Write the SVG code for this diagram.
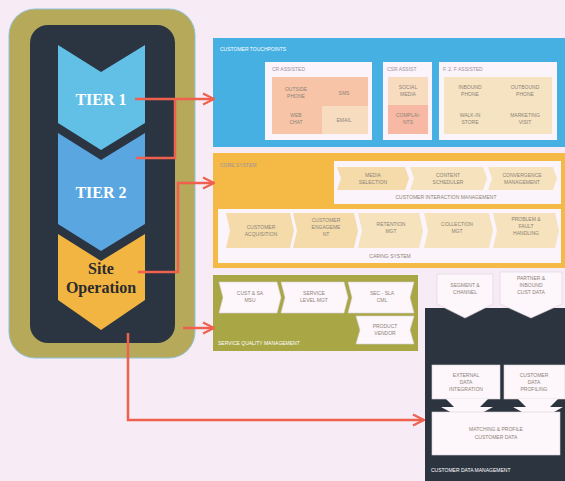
<svg xmlns="http://www.w3.org/2000/svg" width="565" height="481" viewBox="0 0 565 481">
  <style>
    .t { font-family: "Liberation Sans", Arial, sans-serif; font-size: 5px; fill: #8c8478; text-anchor: middle; }
    .lbl { font-family: "Liberation Sans", Arial, sans-serif; font-size: 5px; fill: #9a93a0; }
    .wlbl { font-family: "Liberation Sans", Arial, sans-serif; font-size: 5px; fill: #ffffff; }
    .tier { font-family: "Liberation Serif", "Times New Roman", serif; font-weight: bold; font-size: 16px; text-anchor: middle; }
    .con { fill: none; stroke: #f0604e; stroke-width: 2.5; }
    .box { fill: #fbf4fa; }
    .cellw { fill: #fdf6fb; stroke: #d9d3d8; stroke-width: 0.6; }
  </style>
  <defs>
    <marker id="arrow" viewBox="0 0 10 10" refX="9" refY="5" markerWidth="5.5" markerHeight="5.5" orient="auto" markerUnits="strokeWidth">
      <polyline points="1,1 9,5 1,9" fill="none" stroke="#f0604e" stroke-width="1.5"/>
    </marker>
  </defs>

  <rect width="565" height="481" fill="#f7ebf5"/>

  <!-- tier stack -->
  <g id="tier-stack">
    <rect x="9" y="9" width="186" height="349" rx="26" fill="#b6a95a" stroke="#8fc4d8" stroke-width="1"/>
    <rect x="30" y="25" width="145" height="318" rx="18" fill="#2b3441"/>
  </g>
  <g id="tier1">
    <polygon points="58,45 101,72 145,45 145,123 101,150 58,123" fill="#62c0e6"/>
    <text class="tier" x="101" y="105" fill="#ffffff">TIER 1</text>
  </g>
  <g id="tier2">
    <polygon points="58,133 101,160 145,133 145,224 101,251 58,224" fill="#5aa6e0"/>
    <text class="tier" x="101" y="198" fill="#ffffff">TIER 2</text>
  </g>
  <g id="site-operation">
    <polygon points="58,234 101,261 145,234 145,300 101,330 58,300" fill="#f2b541"/>
    <text class="tier" x="101" y="274" fill="#2b2a2e" font-size="14">Site</text>
    <text class="tier" x="101" y="293" fill="#2b2a2e" font-size="14">Operation</text>
  </g>

  <!-- customer touchpoints -->
  <g id="customer-touchpoints">
    <rect x="213" y="38" width="352" height="109" fill="#46b0e2"/>
    <text class="wlbl" x="220" y="51">CUSTOMER TOUCHPOINTS</text>
    <rect class="box" x="265" y="62" width="107" height="78"/>
    <text class="lbl" x="272" y="71">CR ASSISTED</text>
    <rect x="272" y="77" width="96" height="57" fill="#f7c4a8"/>
    <rect x="322" y="106" width="46" height="28" fill="#f7dcc0"/>
    <text class="t" x="296" y="91">OUTSIDE</text>
    <text class="t" x="296" y="98">PHONE</text>
    <text class="t" x="344" y="95">SMS</text>
    <text class="t" x="296" y="117">WEB</text>
    <text class="t" x="296" y="124">CHAT</text>
    <text class="t" x="344" y="122">EMAIL</text>

    <rect class="box" x="383" y="62" width="49" height="78"/>
    <text class="lbl" x="387" y="71">CSR ASSIST</text>
    <rect x="388" y="77" width="40" height="28" fill="#f7dcc0"/>
    <rect x="388" y="105" width="40" height="29" fill="#f7b9a3"/>
    <text class="t" x="408" y="89">SOCIAL</text>
    <text class="t" x="408" y="96">MEDIA</text>
    <text class="t" x="408" y="117" fill="#ee9a8a">COMPLAI-</text>
    <text class="t" x="408" y="124" fill="#ee9a8a">NTS</text>

    <rect class="box" x="439" y="62" width="118" height="78"/>
    <text class="lbl" x="443" y="71">F. 2. F ASSISTED</text>
    <rect x="444" y="77" width="108" height="57" fill="#f6e3c2"/>
    <text class="t" x="470" y="89">INBOUND</text>
    <text class="t" x="470" y="96">PHONE</text>
    <text class="t" x="525" y="89">OUTBOUND</text>
    <text class="t" x="525" y="96">PHONE</text>
    <text class="t" x="470" y="117">WALK-IN</text>
    <text class="t" x="470" y="124">STORE</text>
    <text class="t" x="525" y="117">MARKETING</text>
    <text class="t" x="525" y="124">VISIT</text>
  </g>

  <!-- core system -->
  <g id="core-system">
    <rect x="213" y="153" width="352" height="115" fill="#f5b946"/>
    <text class="lbl" x="220" y="167" fill="#c98a2a">CORE SYSTEM</text>
    <rect class="box" x="334" y="161" width="227" height="43"/>
    <path d="M337,167 H405 L409,178.5 L405,190 H337 L341,178.5 Z" fill="#f5dbaa"/>
    <path d="M410,167 H483 L487,178.5 L483,190 H410 L414,178.5 Z" fill="#f6e2bc"/>
    <path d="M488,167 H553 L557,178.5 L553,190 H488 L492,178.5 Z" fill="#f6e2bc"/>
    <text class="t" x="373" y="177">MEDIA</text>
    <text class="t" x="373" y="184">SELECTION</text>
    <text class="t" x="448" y="177">CONTENT</text>
    <text class="t" x="448" y="184">SCHEDULER</text>
    <text class="t" x="522" y="177">CONVERGENCE</text>
    <text class="t" x="522" y="184">MANAGEMENT</text>
    <text class="t" x="446" y="199" fill="#a8a0b0">CUSTOMER INTERACTION MANAGEMENT</text>

    <rect class="box" x="218" y="209" width="343" height="54"/>
    <path d="M226,213 H290 L294,230.5 L290,248 H226 L230,230.5 Z" fill="#f5dbaa"/>
    <path d="M293,213 H354 L358,230.5 L354,248 H293 L297,230.5 Z" fill="#f5dbaa"/>
    <path d="M358,213 H419 L423,230.5 L419,248 H358 L362,230.5 Z" fill="#f6e2bc"/>
    <path d="M424,213 H489 L493,230.5 L489,248 H424 L428,230.5 Z" fill="#f6e2bc"/>
    <path d="M493,213 H555 L559,230.5 L555,248 H493 L497,230.5 Z" fill="#f6e2bc"/>
    <text class="t" x="261" y="229">CUSTOMER</text>
    <text class="t" x="261" y="236">ACQUISITION</text>
    <text class="t" x="326" y="222">CUSTOMER</text>
    <text class="t" x="326" y="229">ENGAGEME</text>
    <text class="t" x="326" y="236">NT</text>
    <text class="t" x="391" y="226">RETENTION</text>
    <text class="t" x="391" y="233">MGT</text>
    <text class="t" x="457" y="226">COLLECTION</text>
    <text class="t" x="457" y="233">MGT</text>
    <text class="t" x="526" y="221">PROBLEM &amp;</text>
    <text class="t" x="526" y="228">FAULT</text>
    <text class="t" x="526" y="235">HANDLING</text>
    <text class="t" x="390" y="258" fill="#a8a0b0">CARING SYSTEM</text>
  </g>

  <!-- service quality management -->
  <g id="service-quality">
    <rect x="213" y="275" width="205" height="76" fill="#a9a646"/>
    <path d="M219,282 H277 L281,297.5 L277,313 H219 L223,297.5 Z" class="cellw"/>
    <path d="M281,282 H344 L348,297.5 L344,313 H281 L285,297.5 Z" class="cellw"/>
    <path d="M348,282 H414 L410,297.5 L414,313 H348 L352,297.5 Z" class="cellw"/>
    <path d="M356,316 H414 L410,330 L414,344 H356 L360,330 Z" class="cellw"/>
    <text class="t" x="250" y="295">CUST &amp; SA</text>
    <text class="t" x="250" y="302">MSU</text>
    <text class="t" x="314" y="295">SERVICE</text>
    <text class="t" x="314" y="302">LEVEL MGT</text>
    <text class="t" x="382" y="295">SEC - SLA</text>
    <text class="t" x="382" y="302">CML</text>
    <text class="t" x="385" y="328">PRODUCT</text>
    <text class="t" x="385" y="335">VENDOR</text>
    <text class="wlbl" x="218" y="345">SERVICE QUALITY MANAGEMENT</text>
  </g>

  <!-- customer data management -->
  <g id="customer-data">
    <rect x="425" y="308" width="140" height="173" fill="#2c3440"/>
    <path d="M437,274 H493 V304 L465,318 L437,304 Z" class="cellw"/>
    <path d="M500,272 H562 V304 L531,318 L500,304 Z" class="cellw"/>
    <text class="t" x="465" y="287">SEGMENT &amp;</text>
    <text class="t" x="465" y="294">CHANNEL</text>
    <text class="t" x="531" y="280">PARTNER &amp;</text>
    <text class="t" x="531" y="287">INBOUND</text>
    <text class="t" x="531" y="294">CUST DATA</text>

    <rect x="432" y="365" width="68" height="34" class="cellw"/>
    <rect x="504" y="365" width="61" height="34" class="cellw"/>
    <path d="M446,399 H488 L480,407 H493 L467,421 L441,407 H454 Z" fill="#fdf6fb"/>
    <path d="M518,399 H558 L550,407 H563 L538,421 L513,407 H526 Z" fill="#fdf6fb"/>
    <rect x="432" y="412" width="128" height="43" class="cellw"/>
    <text class="t" x="466" y="377">EXTERNAL</text>
    <text class="t" x="466" y="384">DATA</text>
    <text class="t" x="466" y="391">INTEGRATION</text>
    <text class="t" x="534" y="377">CUSTOMER</text>
    <text class="t" x="534" y="384">DATA</text>
    <text class="t" x="534" y="391">PROFILING</text>
    <text class="t" x="496" y="431">MATCHING &amp; PROFILE</text>
    <text class="t" x="496" y="439">CUSTOMER DATA</text>
    <text class="wlbl" x="431" y="472">CUSTOMER DATA MANAGEMENT</text>
  </g>

  <!-- connectors -->
  <g id="connectors">
    <path class="con" d="M135,99 H214" marker-end="url(#arrow)"/>
    <path class="con" d="M136,158 H175 V99"/>
    <path class="con" d="M180,183 H214" marker-end="url(#arrow)"/>
    <path class="con" d="M138,272 H178 V183 H180"/>
    <path class="con" d="M183,328 H214" marker-end="url(#arrow)"/>
    <path class="con" d="M128,333 V420 H424" marker-end="url(#arrow)"/>
  </g>
</svg>
